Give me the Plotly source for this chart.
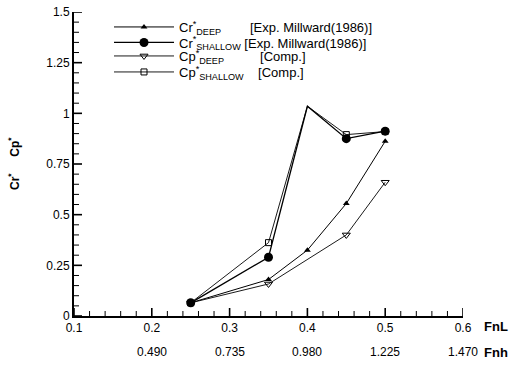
import plotly.graph_objects as go

# Data
x_cr_deep = [0.25, 0.35, 0.40, 0.45, 0.50]
y_cr_deep = [0.065, 0.18, 0.325, 0.555, 0.862]

x_cr_shallow = [0.25, 0.35, 0.40, 0.45, 0.50]
y_cr_shallow = [0.065, 0.29, 1.035, 0.875, 0.912]

x_cp_deep = [0.25, 0.35, 0.45, 0.50]
y_cp_deep = [0.065, 0.158, 0.40, 0.66]

x_cp_shallow = [0.25, 0.35, 0.40, 0.45, 0.50]
y_cp_shallow = [0.065, 0.362, 1.035, 0.895, 0.91]

peak_x = 0.40  # the peak is drawn without a marker in the reference

names = [
    "Cr<sup>*</sup><sub>DEEP</sub>&nbsp;&nbsp;&nbsp;&nbsp;&nbsp;&nbsp;&nbsp;&nbsp;[Exp. Millward(1986)]",
    "Cr<sup>*</sup><sub>SHALLOW</sub>&nbsp;[Exp. Millward(1986)]",
    "Cp<sup>*</sup><sub>DEEP</sub>&nbsp;&nbsp;&nbsp;&nbsp;&nbsp;&nbsp;&nbsp;&nbsp;&nbsp;&nbsp;[Comp.]",
    "Cp<sup>*</sup><sub>SHALLOW</sub>&nbsp;&nbsp;&nbsp;&nbsp;[Comp.]",
]

fnl_ticks = [0.1, 0.2, 0.3, 0.4, 0.5, 0.6]
fnl_labels = ["0.1", "0.2", "0.3", "0.4", "0.5", "0.6"]
fnh_ticks = [0.2, 0.3, 0.4, 0.5, 0.6]
fnh_labels = ["0.490", "0.735", "0.980", "1.225", "1.470"]
y_ticks = [0, 0.25, 0.5, 0.75, 1, 1.25, 1.5]
y_labels = ["0", "0.25", "0.5", "0.75", "1", "1.25", "1.5"]

X_RANGE = [0.1, 0.6]
Y_RANGE = [0, 1.5]
X_MINOR_STEP = 0.02
Y_MINOR_STEP = 0.05

FONT = "Liberation Sans, Arial, sans-serif"

W, H = 521, 370
M_L, M_R, M_T, M_B = 74, 58, 12, 54
PLOT_W = W - M_L - M_R
PLOT_H = H - M_T - M_B
PAPER_H = PLOT_H
LEG_ROWS_PX = [27, 42.5, 56, 72]

# tick lengths (pixels) converted to axis units
MAJ_PX, MIN_PX = 8, 5
px_x = (X_RANGE[1] - X_RANGE[0]) / PLOT_W
px_y = (Y_RANGE[1] - Y_RANGE[0]) / PLOT_H


def leg_y(py):
    return (H - M_B - py) / PAPER_H


def keep_idx(xs):
    return [i for i, v in enumerate(xs) if abs(v - peak_x) > 1e-9]


fig = go.Figure()
fig.add_trace(go.Scatter(x=x_cr_deep, y=y_cr_deep, name=names[0], mode="lines+markers",
                         legend="legend",
                         line=dict(color="black", width=1),
                         marker=dict(symbol="triangle-up", size=6, color="black")))
fig.add_trace(go.Scatter(x=x_cr_shallow, y=y_cr_shallow, name=names[1], mode="lines+markers",
                         legend="legend2",
                         selectedpoints=keep_idx(x_cr_shallow),
                         unselected=dict(marker=dict(opacity=0)),
                         line=dict(color="black", width=1.3),
                         marker=dict(symbol="circle", size=9, color="black")))
fig.add_trace(go.Scatter(x=x_cp_deep, y=y_cp_deep, name=names[2], mode="lines+markers",
                         legend="legend3",
                         line=dict(color="black", width=0.9),
                         marker=dict(symbol="triangle-down-open", size=7, color="black",
                                     line=dict(width=1))))
fig.add_trace(go.Scatter(x=x_cp_shallow, y=y_cp_shallow, name=names[3], mode="lines+markers",
                         legend="legend4",
                         selectedpoints=keep_idx(x_cp_shallow),
                         unselected=dict(marker=dict(opacity=0)),
                         line=dict(color="black", width=0.9),
                         marker=dict(symbol="square-open", size=6, color="black",
                                     line=dict(width=1))))

# inside tick marks, built from the tick arrays and the axis ranges
n_xm = int(round((X_RANGE[1] - X_RANGE[0]) / X_MINOR_STEP))
x_minor = [X_RANGE[0] + i * X_MINOR_STEP for i in range(n_xm + 1)]
n_ym = int(round((Y_RANGE[1] - Y_RANGE[0]) / Y_MINOR_STEP))
y_minor = [Y_RANGE[0] + i * Y_MINOR_STEP for i in range(n_ym + 1)]


def is_major(v, majors):
    return any(abs(v - t) < 1e-9 for t in majors)


def tick_xy(xvals, yvals):
    return xvals, yvals


for major, width, plen in [(True, 1.6, MAJ_PX), (False, 1.0, MIN_PX)]:
    tx, ty = [], []
    for v in x_minor:
        if is_major(v, fnl_ticks) == major:
            tx += [v, v, None]
            ty += [Y_RANGE[0], Y_RANGE[0] + plen * px_y, None]
    for v in y_minor:
        if is_major(v, y_ticks) == major:
            tx += [X_RANGE[0], X_RANGE[0] + plen * px_x, None]
            ty += [v, v, None]
    fig.add_trace(go.Scatter(x=tx, y=ty, mode="lines", showlegend=False, hoverinfo="skip",
                             line=dict(color="black", width=width)))

leg_common = dict(x=0.09, xanchor="left", yanchor="middle", bgcolor="rgba(0,0,0,0)",
                  font=dict(size=13, family=FONT), itemwidth=60)

annotations = [
    dict(text="<b>FnL</b>", xref="paper", yref="paper", x=1.05, y=0, yshift=-10,
         xanchor="left", yanchor="middle", showarrow=False, font=dict(size=13)),
    dict(text="<b>Fnh</b>", xref="paper", yref="paper", x=1.05, y=0, yshift=-36,
         xanchor="left", yanchor="middle", showarrow=False, font=dict(size=13)),
    dict(text="<b>Cr<sup>*</sup>&nbsp;&nbsp;&nbsp;&nbsp;&nbsp;Cp<sup>*</sup></b>",
         xref="paper", yref="paper",
         x=0, xshift=-60, y=leg_y(164), textangle=-90, showarrow=False,
         xanchor="center", yanchor="middle", font=dict(size=12)),
]
for t, lab in zip(fnh_ticks, fnh_labels):
    annotations.append(dict(text=lab, xref="x", yref="paper", x=t, y=0, yshift=-36,
                            xanchor="center", yanchor="middle", showarrow=False,
                            font=dict(size=12)))

fig.update_layout(
    width=W, height=H,
    margin=dict(l=M_L, r=M_R, t=M_T, b=M_B),
    paper_bgcolor="white", plot_bgcolor="white",
    font=dict(family=FONT, size=12, color="black"),
    showlegend=True,
    legend=dict(y=leg_y(LEG_ROWS_PX[0]), **leg_common),
    legend2=dict(y=leg_y(LEG_ROWS_PX[1]), **leg_common),
    legend3=dict(y=leg_y(LEG_ROWS_PX[2]), **leg_common),
    legend4=dict(y=leg_y(LEG_ROWS_PX[3]), **leg_common),
    xaxis=dict(range=X_RANGE, tickmode="array", tickvals=fnl_ticks, ticktext=fnl_labels,
               showgrid=False, zeroline=False, showline=True, linecolor="black", linewidth=2,
               ticks="", tickfont=dict(size=12), automargin=False),
    yaxis=dict(range=Y_RANGE, tickmode="array", tickvals=y_ticks, ticktext=y_labels,
               showgrid=False, zeroline=False, showline=True, linecolor="black", linewidth=2,
               ticks="", tickfont=dict(size=12), automargin=False),
    annotations=annotations,
)

fig.write_html("out.html")
